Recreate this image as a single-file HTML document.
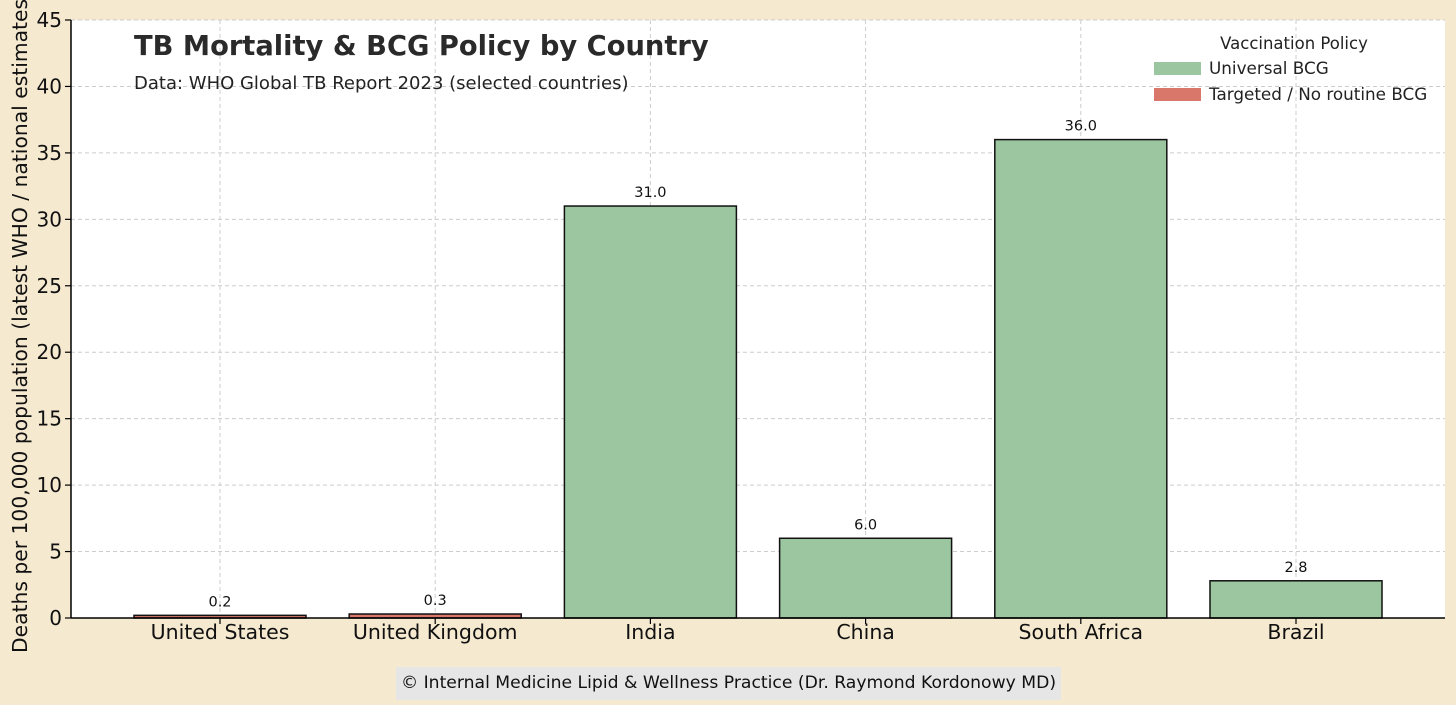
<!DOCTYPE html>
<html><head><meta charset="utf-8"><style>
body{margin:0;width:1456px;height:705px;background:#f5e9d0;overflow:hidden;font-family:"DejaVu Sans","Liberation Sans",sans-serif;}
svg{position:absolute;left:0;top:0}
#foot{position:absolute;left:396px;top:667px;width:665px;height:33px;background:#e6e6e6;color:#111;font-size:17.2px;line-height:33px;text-align:center;white-space:nowrap;}
</style></head><body>
<svg width="1456" height="705" id="chart">
<rect x="71" y="20" width="1374" height="598" fill="#fff"/>
<g id="grid"></g><g id="bars"></g><g id="axes"></g>
<text x="134" y="55" font-size="27.3" font-weight="bold" fill="#2a2a2a">TB Mortality &amp; BCG Policy by Country</text>
<text x="134" y="89" font-size="18" fill="#222">Data: WHO Global TB Report 2023 (selected countries)</text>
<g>
<text x="1294" y="49" font-size="16.5" fill="#222" text-anchor="middle">Vaccination Policy</text>
<rect x="1154" y="62" width="47" height="13" fill="#9bc6a0"/>
<text x="1209" y="74" font-size="16.8" fill="#222">Universal BCG</text>
<rect x="1154" y="88" width="47" height="13" fill="#d8776a"/>
<text x="1209" y="100" font-size="16.8" fill="#222">Targeted / No routine BCG</text>
</g>
<text transform="translate(27,322) rotate(-90)" font-size="20.3" fill="#111" text-anchor="middle">Deaths per 100,000 population (latest WHO / national estimates)</text>
</svg>
<div id="foot">© Internal Medicine Lipid &amp; Wellness Practice (Dr. Raymond Kordonowy MD)</div>
<script>
const categories=["United States","United Kingdom","India","China","South Africa","Brazil"];
const values=[0.2,0.3,31.0,6.0,36.0,2.8];
const policies=["targeted","targeted","universal","universal","universal","universal"];
const yTicks=[0,5,10,15,20,25,30,35,40,45];
const NS="http://www.w3.org/2000/svg";
const y0=618,yTop=20,yMax=45,x0=220,step=215.2,bw=172;
const y=v=>y0-(v/yMax)*(y0-yTop);
const x=i=>x0+i*step;
function mk(t,a,p){const e=document.createElementNS(NS,t);for(const k in a)e.setAttribute(k,a[k]);p.appendChild(e);return e;}
const grid=document.getElementById('grid'),bars=document.getElementById('bars'),axes=document.getElementById('axes');
yTicks.forEach(t=>{
 const l=mk('line',{x1:71,x2:1445,y1:y(t),y2:y(t),stroke:'#ccc','stroke-dasharray':'4,3','stroke-width':1},grid);
 
 
 const tk=mk('line',{x1:65,x2:71,y1:y(t),y2:y(t),stroke:'#000','stroke-width':1.2},axes);
 
 
 const tx=mk('text',{x:62,y:y(t)+7,'font-size':20,'text-anchor':'end',fill:'#111'},axes);
 tx.textContent=t;
 
 
});
categories.forEach((c,i)=>{
 const gl=mk('line',{x1:x(i),x2:x(i),y1:yTop,y2:y0,stroke:'#ccc','stroke-dasharray':'4,3','stroke-width':1},grid);
 
 
 const r=mk('rect',{x:x(i)-bw/2,y:y(values[i]),width:bw,height:y0-y(values[i]),fill:policies[i]==='universal'?'#9bc6a0':'#d8776a',stroke:'#111','stroke-width':1.5},bars);
 
 
 const vl=mk('text',{x:x(i),y:y(values[i])-9,'font-size':14.5,'text-anchor':'middle',fill:'#111'},bars);
 vl.textContent=values[i].toFixed(1);
 
 
 const tk=mk('line',{x1:x(i),x2:x(i),y1:y0,y2:y0+6,stroke:'#000','stroke-width':1.2},axes);
 
 
 const xl=mk('text',{x:x(i),y:y0+21,'font-size':20.5,'text-anchor':'middle',fill:'#111'},axes);
 xl.textContent=c;
 
 
});
const la=mk('line',{x1:71,x2:71,y1:yTop,y2:y0,stroke:'#000','stroke-width':1.5},axes);


const ba=mk('line',{x1:71,x2:1445,y1:y0,y2:y0,stroke:'#000','stroke-width':1.5},axes);


</script>
</body></html>
